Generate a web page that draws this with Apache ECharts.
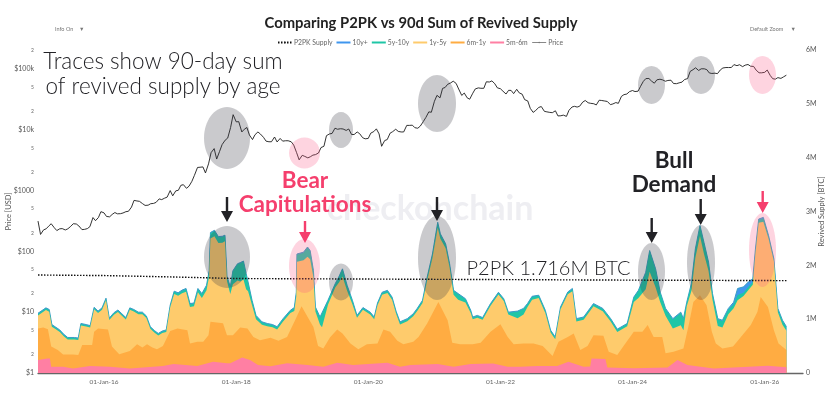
<!DOCTYPE html>
<html><head><meta charset="utf-8">
<style>html,body{margin:0;padding:0;background:#fff}#c{width:828px;height:402px}</style>
<script src="https://cdn.jsdelivr.net/npm/echarts@6/dist/echarts.min.js"></script>
</head><body><div id="c"></div>
<script>
// ---------- tick labels ----------
const xTickYears = [2016, 2018, 2020, 2022, 2024, 2026];
const priceMajor = [1, 10, 100, 1000, 10000, 100000];
const priceMinor = [2, 5, 20, 50, 200, 500, 2000, 5000, 20000, 50000, 200000];
const legendNames = ['P2PK Supply', '10y+', '5y-10y', '1y-5y', '6m-1y', '5m-6m', 'Price'];

// ---------- P2PK supply (BTC, thousands) ----------
const p2pkYears = [2015, 2016, 2017, 2018, 2020, 2022, 2024, 2026.33];
const p2pkValues = [1820, 1810, 1785, 1755, 1745, 1735, 1725, 1716];

// ---------- total revived supply, 90d sum (BTC, thousands) ----------
const totalYears = [
 2015.00,2015.06,2015.12,2015.17,2015.21,2015.27,2015.33,2015.39,2015.45,2015.55,2015.61,2015.65,2015.73,2015.79,2015.85,2015.91,2015.97,
 2016.03,2016.08,2016.15,2016.21,2016.27,2016.33,2016.39,2016.45,2016.52,2016.58,2016.64,2016.70,2016.76,2016.82,2016.88,2016.94,
 2017.00,2017.06,2017.12,2017.18,2017.24,2017.30,2017.36,2017.42,2017.48,2017.55,2017.59,2017.61,2017.67,2017.73,2017.79,2017.83,2017.86,2017.91,2017.95,
 2018.02,2018.06,2018.11,2018.15,2018.18,2018.24,2018.30,2018.39,2018.47,2018.55,2018.62,2018.71,2018.82,2018.88,2018.91,2018.92,
 2019.02,2019.08,2019.12,2019.17,2019.20,2019.27,2019.30,2019.39,2019.50,2019.56,2019.61,2019.68,2019.76,2019.83,2019.92,
 2020.03,2020.09,2020.14,2020.21,2020.29,2020.36,2020.42,2020.48,2020.59,2020.68,2020.74,2020.82,2020.89,2020.97,
 2021.05,2021.09,2021.17,2021.23,2021.29,2021.36,2021.47,2021.55,2021.58,2021.65,2021.73,2021.85,2021.97,
 2022.05,2022.12,2022.26,2022.35,2022.41,2022.48,2022.58,2022.68,2022.76,2022.83,2022.91,
 2023.02,2023.09,2023.15,2023.26,2023.41,2023.55,2023.67,2023.77,2023.92,
 2024.02,2024.09,2024.20,2024.26,2024.35,2024.42,2024.50,2024.61,2024.73,2024.77,2024.82,2024.89,2024.95,
 2025.02,2025.08,2025.15,2025.21,2025.29,2025.36,2025.45,2025.53,2025.59,2025.68,2025.76,2025.82,2025.86,2025.91,2025.98,
 2026.06,2026.14,2026.20,2026.27,2026.33];
const totalValues = [
 1110,1160,1210,1180,900,850,800,720,660,660,650,920,900,880,1220,1150,1210,
 1390,1020,1120,1170,1100,1030,1210,1180,1130,1130,1060,860,790,735,780,800,
 1260,1520,1490,1540,1570,1290,1300,1570,1475,1630,1900,2610,2650,2535,2540,2560,1800,1600,1900,
 2030,2050,2080,1850,1690,1350,1070,950,920,900,860,1010,1165,1215,1500,2210,
 2245,2340,2275,1905,1225,1040,1010,1350,1660,1800,1935,1630,1350,1070,1215,
 1130,1040,1300,1500,1535,1410,1150,950,1010,1100,1200,1350,1780,2210,
 2800,2585,2400,2030,1535,1475,1380,1165,1040,1070,1030,1290,1500,
 1380,1130,1150,1200,1290,1425,1445,1165,795,670,1225,
 1505,1570,1010,1040,1290,1200,1010,815,920,
 1410,1535,1870,2275,1935,1500,1200,1010,1130,1010,1315,1660,2305,
 2740,2430,2060,1475,1010,980,1200,1315,1570,1600,1700,1750,2300,2860,2890,
 2550,2120,1200,980,860];
// band widths at the same dates (BTC, thousands)
const band10y = [
 12,12,12,12,12,12,12,12,12,12,12,12,12,12,12,12,12,
 12,12,12,12,12,12,12,12,12,12,12,12,12,12,12,12,
 12,12,12,12,12,12,12,12,12,12,12,12,12,12,12,12,12,12,12,
 12,12,12,12,12,12,12,12,12,12,12,12,12,12,12,12,
 12,12,12,12,12,12,12,12,12,12,12,12,12,12,12,
 12,12,12,12,12,12,12,12,12,12,12,12,12,12,
 12,12,12,12,12,12,12,12,12,12,12,12,12,
 12,12,12,12,12,12,12,12,12,12,12,
 12,12,12,12,12,12,12,12,12,
 12,12,15,15,15,15,15,15,15,15,15,15,15,
 15,15,15,15,15,15,20,40,120,110,90,60,30,20,20,
 20,20,20,15,15];
const band5y = [
 30,30,30,30,30,25,25,25,25,25,25,25,25,25,25,25,25,
 25,25,25,25,25,25,25,25,25,25,25,25,25,25,25,25,
 25,40,45,45,50,50,50,60,70,80,90,100,100,110,110,100,80,120,240,
 300,340,330,280,160,80,60,40,40,40,40,40,40,50,60,130,
 140,170,150,120,70,130,150,70,60,100,130,90,60,30,30,
 30,30,30,35,35,35,35,35,35,35,35,40,50,60,
 90,80,70,60,70,100,60,40,30,30,30,30,30,
 30,30,120,100,50,50,40,40,30,30,30,
 30,40,40,40,40,40,40,40,40,
 80,130,300,380,330,170,120,170,230,200,60,120,150,
 180,200,150,100,120,120,90,70,100,60,60,50,50,50,60,
 40,30,50,70,60];

// ---------- 6m-1y cumulative top (BTC, thousands) ----------
const sixMYears = [
 2015.00,2015.08,2015.15,2015.20,2015.30,2015.38,2015.53,2015.61,2015.67,2015.82,2015.85,2015.91,
 2016.06,2016.12,2016.23,2016.39,2016.50,2016.58,2016.65,2016.73,2016.80,2016.89,
 2017.00,2017.11,2017.26,2017.30,2017.41,2017.50,2017.58,2017.61,2017.80,2017.86,2017.95,
 2018.06,2018.17,2018.26,2018.36,2018.52,2018.64,2018.77,2018.89,2018.99,
 2019.08,2019.17,2019.24,2019.32,2019.42,2019.53,2019.61,2019.73,2019.85,2019.98,
 2020.14,2020.23,2020.33,2020.44,2020.53,2020.68,2020.76,2020.89,
 2021.06,2021.20,2021.27,2021.39,2021.58,2021.70,2021.85,
 2022.00,2022.11,2022.20,2022.35,2022.50,2022.64,2022.79,2022.88,
 2023.02,2023.11,2023.21,2023.32,2023.41,2023.56,2023.64,2023.77,2023.86,
 2024.02,2024.15,2024.23,2024.32,2024.45,2024.50,2024.62,2024.77,2024.85,2024.92,
 2025.02,2025.12,2025.20,2025.26,2025.36,2025.52,2025.64,2025.79,2025.89,2025.94,
 2026.05,2026.14,2026.21,2026.33];
const sixMValues = [
 825,845,815,490,425,345,345,335,520,520,765,825,
 810,490,350,410,535,475,535,475,440,500,
 780,825,795,550,580,580,700,950,925,700,700,
 845,825,670,610,655,600,670,975,1240,
 1045,855,500,455,660,810,735,550,440,535,
 550,810,765,600,535,580,670,920,
 1320,980,560,535,535,560,765,
 905,670,535,550,550,500,315,580,
 670,735,425,500,700,690,395,333,490,
 765,765,890,670,670,365,395,455,890,1320,
 1445,1260,765,550,455,490,670,890,1135,1410,
 1225,795,550,425];

// ---------- 5m-6m cumulative top (BTC, thousands) ----------
const fiveMYears = [
 2015.00,2015.14,2015.18,2015.20,2015.38,2015.53,2015.79,
 2016.09,2016.39,2016.89,
 2017.05,2017.41,2017.65,2017.86,2017.91,
 2018.09,2018.21,2018.33,2018.52,2018.77,
 2019.08,2019.32,2019.53,2019.77,
 2020.29,2020.48,2020.64,
 2021.05,2021.29,2021.55,2021.89,
 2022.11,2022.30,2022.56,2022.86,
 2023.03,2023.26,2023.36,2023.38,2023.59,2023.62,
 2024.02,2024.53,2024.68,2024.83,
 2025.23,
 2026.05,2026.33];
const fiveMValues = [
 240,270,270,115,115,85,130,
 115,85,130,
 165,130,210,180,180,
 290,240,150,125,180,
 150,115,190,150,
 190,115,150,
 165,115,165,175,
 115,115,130,130,
 210,115,120,270,260,100,
 90,100,240,150,
 85,
 135,105];

// ---------- BTC price, USD, on the 1st and 15th of each month from Jan 2015 ----------
const price2015 = [315,190,226,235,260,285,245,220,235,237,225,235,258,285,282,262,228,230,237,255,360,320,360,450];
const price2016 = [430,375,370,405,435,415,417,428,450,456,535,690,675,665,610,570,575,608,615,640,730,710,750,780];
const price2017 = [1000,820,990,1010,1220,1250,1090,1180,1420,1780,2400,2420,2450,1950,2750,4200,4900,3300,4400,5700,6750,7300,10900,17700];
const price2018 = [13500,13600,9200,10200,10900,8200,6900,8300,9200,8500,7500,6500,6350,6350,7600,6300,7200,6500,6600,6600,6350,5600,4200,3200];
const price2019 = [3800,3650,3450,3600,3830,3900,4150,5100,5350,8000,8550,8700,10600,10200,10400,10300,9750,10300,8350,8350,9200,8600,7400,7100];
const price2020 = [7200,8800,9350,10350,8550,5350,6650,6900,8800,9300,10200,9400,9200,9200,11800,11800,11900,10800,10600,11500,13700,16000,19700,19400];
const price2021 = [29400,36800,33500,47900,49600,55900,59000,63000,57800,46800,36700,40200,33500,31800,39900,47000,48800,48100,48100,61500,61000,63700,57000,48900];
const price2022 = [47300,43100,38700,44500,44400,39300,46300,40400,38500,31300,29800,22500,19300,20800,23300,24100,20100,19700,19300,19100,20500,16900,17000,17400];
const price2023 = [16600,20900,23700,24300,23600,24400,28500,30300,27800,27200,26800,25600,30600,30300,29700,29200,25900,26600,28000,27200,35400,37800,38700,42300];
const price2024 = [44200,42500,43100,51900,62400,69400,69700,63400,58300,66200,67800,66200,62800,64700,65300,57600,57300,59100,60800,67000,69500,91000,97300,104400];
const price2025 = [94400,100500,100600,97500,86000,84300,85200,83700,96500,103700,105600,105500,105700,117800,113300,117400,109200,115400,118500,111000,110000,95500,86500,86400];
const price2026 = [88000,96000,78000,69000,68000,72000,70000,74000,79000];
const priceValues = [].concat(price2015,price2016,price2017,price2018,price2019,price2020,price2021,price2022,price2023,price2024,price2025,price2026);

// ---------- build ----------
const yearToMs = y => { const f = Math.floor(y); const a = Date.UTC(f,0,1), b = Date.UTC(f+1,0,1); return a + (y-f)*(b-a); };
const pairs = (xs, ys) => xs.map((x,i)=>[yearToMs(x), ys[i]*1000]);
const total = pairs(totalYears, totalValues);
const top5y = pairs(totalYears, totalValues.map((v,i)=>v-band10y[i]));
const top1y = pairs(totalYears, totalValues.map((v,i)=>v-band10y[i]-band5y[i]));
const priceData = priceValues.map((v,i)=>{
  const y = 2015 + Math.floor(i/24), m = Math.floor((i%24)/2), d = i%2 ? 15 : 1;
  return [Date.UTC(y,m,d), v];
});
const fontF = 'Lato, "Open Sans", sans-serif';
const area = (name, data, color, z, line) => ({
  name, type:'line', yAxisIndex:1, data, symbol:'none', z, animation:false, silent:true,
  lineStyle:{color:line||color, width:line?1:0}, itemStyle:{color}, areaStyle:{color, opacity:1}
});
const ellipses = [
 [227,138,23,31,0],[227,257,23,31,0],
 [304.5,153,15.5,15.5,1],[304.5,266,15.5,27,1],
 [341,130,12,18,0],[341,282,12,18.5,0],
 [437,103.5,19,28.5,0],[437,258,19,42,0],
 [651.5,85,13.5,19,0],[651.5,271.5,13.5,28.5,0],
 [701,75,14,19,0],[701,262.5,14,37.5,0],
 [762.5,75,13.5,19,1],[762.5,250,13.5,37,1]
];
const arrows = [[227,197,222,0],[305,221,243,1],[437,197,221,0],[651.7,218,243,0],[700.7,199,225,0],[762.7,191,213,1]];
const INK='#222226', PINK='#f53f6d';
const txt = (text,x,y,size,weight,fill,z) => ({type:'text',z:z||60,style:{text,x,y,fontSize:size,fontWeight:weight,fill,fontFamily:fontF,align:'center',verticalAlign:'middle'}});
const graphic = [
  txt('checkonchain',430,209,34,700,'#eeeef2',1),
  ...ellipses.map(e=>({type:'ellipse',z:50,shape:{cx:e[0],cy:e[1],rx:e[2],ry:e[3]},
     style:{fill:e[4]?'rgba(250,90,135,0.26)':'rgba(60,60,72,0.27)'}})),
  ...arrows.map(a=>({type:'polygon',z:55,shape:{points:[[a[0]-1.2,a[1]],[a[0]+1.2,a[1]],[a[0]+1.2,a[2]-11],[a[0]+6,a[2]-11],[a[0],a[2]],[a[0]-6,a[2]-11],[a[0]-1.2,a[2]-11]]},
     style:{fill:a[3]?PINK:INK}})),
  txt('Traces show 90-day sum',163,62,22.5,300,INK),
  txt('of revived supply by age',163,87,22.5,300,INK),
  txt('Bear',305,181,22.5,700,PINK),
  txt('Capitulations',305,205,22.5,700,PINK),
  txt('Bull',674,161,22.5,700,INK),
  txt('Demand',674,185,22.5,700,INK),
  txt('P2PK 1.716M BTC',548.5,269,20,300,INK),
  {type:'text',z:60,style:{text:'Info On    \u25BC',x:55,y:29,fontSize:5.5,fill:'#777',fontFamily:fontF,verticalAlign:'middle'}},
  {type:'text',z:60,style:{text:'Default Zoom     \u25BC',x:750,y:29,fontSize:5.5,fill:'#777',fontFamily:fontF,verticalAlign:'middle'}}
];
const chart = echarts.init(document.getElementById('c'), null, {renderer:'canvas'});
chart.setOption({
  animation:false, useUTC:true, backgroundColor:'#fff',
  title:{text:'Comparing P2PK vs 90d Sum of Revived Supply', left:416, top:11, textAlign:'center',
    textStyle:{fontFamily:fontF,fontSize:14.8,fontWeight:700,color:'#222'}},
  legend:{top:39,left:277,itemWidth:14,itemHeight:2,itemGap:4,padding:0,
    textStyle:{fontFamily:fontF,fontSize:6.8,color:'#666',padding:[0,0,0,-3]},
    data:legendNames.map(n=>n==='Price'?{name:n,lineStyle:{color:'#888',width:1}}:
      n==='P2PK Supply'?{name:n}:{name:n,icon:'rect'})},
  grid:{left:38,right:25,top:50,height:323,outerBoundsMode:'none'},
  xAxis:{type:'value',min:Date.UTC(2015,0,1),max:Date.UTC(2026,7,1),
    axisLine:{lineStyle:{color:'#666',width:1.3}},axisTick:{show:false},splitLine:{show:false},
    axisLabel:{customValues:xTickYears.map(y=>Date.UTC(y,0,1)),fontFamily:fontF,fontSize:6.5,color:'#666',margin:5,
      formatter:v=>'01-Jan-'+String(new Date(v).getUTCFullYear()).slice(2)}},
  yAxis:[
   {type:'log',logBase:10,min:1,max:205000,position:'left',name:'Price [USD]',nameLocation:'middle',nameGap:25,nameMoveOverlap:false,
    nameTextStyle:{fontFamily:fontF,fontSize:7.5,color:'#555'},
    axisLine:{show:false},axisTick:{show:false},splitLine:{show:false},
    axisLabel:{fontFamily:fontF,fontSize:7,color:'#555',margin:4,
      customValues:priceMajor.concat(priceMinor),
      formatter:v=>{const r=Math.round(v); if(priceMajor.includes(r)) return r>=10000?'$'+r/1000+'k':'$'+r; return '{m|'+String(r).charAt(0)+'}';},
      rich:{m:{fontSize:5,color:'#666',fontFamily:fontF}}}},
   {type:'value',min:0,max:6000000,interval:1000000,position:'right',name:'Revived Supply [BTC]',nameLocation:'middle',nameGap:15,nameMoveOverlap:false,
    nameTextStyle:{fontFamily:fontF,fontSize:7.5,color:'#555'},
    axisLine:{show:false},axisTick:{show:false},splitLine:{show:false},
    axisLabel:{fontFamily:fontF,fontSize:7,color:'#555',margin:3,formatter:v=>v===0?'0':v/1e6+'M'}}
  ],
  graphic,
  series:[
   area('10y+',total,'#3f96ee',3,'#3a9ec4'),
   area('5y-10y',top5y,'#1fc6a6',4),
   area('1y-5y',top1y,'#fecb6c',5),
   area('6m-1y',pairs(sixMYears,sixMValues),'#ffac42',6),
   area('5m-6m',pairs(fiveMYears,fiveMValues),'#ff7fa3',7),
   {name:'P2PK Supply',type:'line',yAxisIndex:1,data:pairs(p2pkYears,p2pkValues),symbol:'none',z:10,silent:true,
    itemStyle:{color:'#222'},lineStyle:{color:'#111',width:1.4,type:[1.5,1.5]}},
   {name:'Price',type:'line',yAxisIndex:0,data:priceData,symbol:'none',z:11,silent:true,
    itemStyle:{color:'#777'},lineStyle:{color:'#1c1c1c',width:0.9}}
  ]
});
</script></body></html>
